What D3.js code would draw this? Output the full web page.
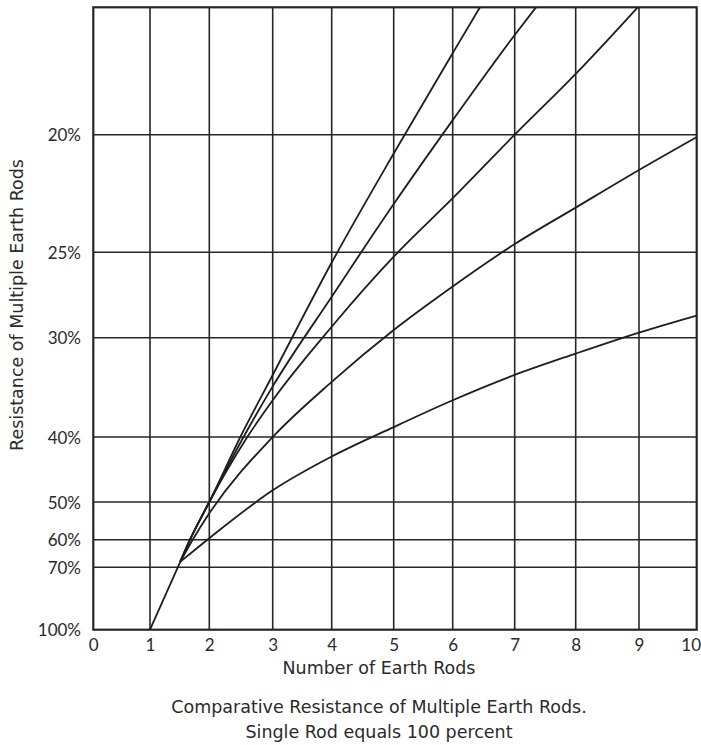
<!DOCTYPE html>
<html>
<head>
<meta charset="utf-8">
<script src="https://cdn.jsdelivr.net/npm/d3@7"></script>
<style>
  html, body { margin: 0; padding: 0; background: #fff; }
  svg { display: block; }
  text { font-family: Lato, "Open Sans", sans-serif; fill: #2a2a2a; }
</style>
</head>
<body>
<svg id="chart" width="701" height="745"></svg>
<script>
// ---- Data ----
const xTicks = [0, 1, 2, 3, 4, 5, 6, 7, 8, 9, 10];
const yTicks = [100, 70, 60, 50, 40, 30, 25, 20];
const yTickLabels = ["100%", "70%", "60%", "50%", "40%", "30%", "25%", "20%"];
const yTop = 16.5; // value at the top edge of the chart

// shared trunk of all curves (single rod -> branching point)
const trunkRods = [1, 1.51];
const trunkPct  = [100, 68];

// branches (number of rods, resistance %)
const curve1Rods = [1.51, 2, 3, 4, 5, 6, 7, 8, 9, 10];
const curve1Pct  = [68, 59.6, 48.2, 43.0, 39.0, 36.3, 33.75, 31.6, 29.7, 28.7];

const curve2Rods = [1.51, 1.72, 2, 3, 4, 5, 6, 7, 8, 9, 10];
const curve2Pct  = [68, 60, 53.0, 40, 34.45, 29.55, 27.0, 24.65, 23.1, 21.5, 20.1];

const curve3Rods = [1.51, 1.675, 2, 2.6, 3, 4, 5, 6, 7, 8, 8.98];
const curve3Pct  = [68, 60, 50, 40, 36.3, 29.36, 25.26, 22.7, 20, 18.33, 16.5];

const curve4Rods = [1.51, 1.675, 2, 2.54, 3, 4, 5, 6, 7, 7.35];
const curve4Pct  = [68, 60, 50, 40, 34.9, 27.6, 22.95, 19.6, 17.26, 16.5];

const curve5Rods = [1.51, 1.675, 2, 2.49, 3, 4, 5, 6, 6.44];
const curve5Pct  = [68, 60, 50, 40, 33.76, 25.6, 20.8, 17.76, 16.5];

// ---- Layout ----
const svg = d3.select("#chart");
// hand-drawn grid: the original's grid spacing is slightly irregular
const x = d3.scaleLinear()
  .domain(xTicks)
  .range([93.3, 150, 209.3, 272.7, 331.7, 393.7, 452.7, 514.7, 575.7, 639, 696.7]);
const y = d3.scaleLinear()
  .domain([...yTicks, yTop])
  .range([629.7, 567.3, 539.7, 502, 437, 337.7, 252.3, 134.7, 7.3]);

const pLeft = x(0), pRight = x(10), pTop = y(yTop), pBottom = y(100);
const ink = "#262626";

// grid
const g = svg.append("g");
g.selectAll("line.v").data(xTicks.slice(1, -1)).join("line")
  .attr("x1", d => x(d)).attr("x2", d => x(d))
  .attr("y1", pTop).attr("y2", pBottom)
  .attr("stroke", ink).attr("stroke-width", 1.6);
g.selectAll("line.h").data(yTicks.slice(1)).join("line")
  .attr("x1", pLeft).attr("x2", pRight)
  .attr("y1", d => y(d)).attr("y2", d => y(d))
  .attr("stroke", ink).attr("stroke-width", 1.6);
// frame
svg.append("rect")
  .attr("x", pLeft).attr("y", pTop)
  .attr("width", pRight - pLeft).attr("height", pBottom - pTop)
  .attr("fill", "none").attr("stroke", ink).attr("stroke-width", 2.2);

// axes (labels only)
const xAxis = d3.axisBottom(x).tickValues(xTicks).tickSize(0).tickPadding(0).tickFormat(d3.format("d"));
const xa = svg.append("g").attr("transform", `translate(0,${pBottom})`).call(xAxis);
xa.select(".domain").remove();
xa.selectAll("text").attr("y", 21).attr("dy", 0)
  .attr("dx", d => d === 10 ? -6 : 0)
  .style("font-family", "Lato, sans-serif").style("font-size", "17px").attr("fill", "#2a2a2a");

const yAxis = d3.axisLeft(y).tickValues(yTicks).tickSize(0).tickPadding(0)
  .tickFormat((d, i) => yTickLabels[i]);
const ya = svg.append("g").attr("transform", `translate(${81},0)`).call(yAxis);
ya.select(".domain").remove();
ya.selectAll("text").attr("x", 0).attr("dy", "0.37em")
  .style("font-family", "Lato, sans-serif").style("font-size", "17px").attr("fill", "#2a2a2a");

// curves
const line = d3.line()
  .x(d => x(d[0])).y(d => y(d[1]))
  .curve(d3.curveMonotoneX);
const straight = d3.line().x(p => x(p[0])).y(p => y(p[1]));
const zip = (a, b) => a.map((v, i) => [v, b[i]]);
const series = [
  zip(trunkRods, trunkPct),
  zip(curve1Rods, curve1Pct),
  zip(curve2Rods, curve2Pct),
  zip(curve3Rods, curve3Pct),
  zip(curve4Rods, curve4Pct),
  zip(curve5Rods, curve5Pct)
];
svg.append("g").selectAll("path").data(series).join("path")
  .attr("d", d => d.length === 2 ? straight(d) : line(d))
  .attr("fill", "none").attr("stroke", "#1e1e1e").attr("stroke-width", 1.8)
  .attr("stroke-linejoin", "round");

// titles: one size, chosen so the x-axis title matches the original's width
const titleFont = "'DejaVu Sans', sans-serif";
const xt = svg.append("text").attr("x", 379).attr("y", 674).attr("text-anchor", "middle")
  .style("font-family", titleFont).style("font-size", "17px").text("Number of Earth Rods");
const fs = Math.max(15, Math.min(18.5, 17 * 193 / xt.node().getComputedTextLength()));
xt.style("font-size", fs + "px");
svg.append("text").attr("transform", "translate(23,305) rotate(-90)").attr("text-anchor", "middle")
  .style("font-family", titleFont).style("font-size", fs + "px").text("Resistance of Multiple Earth Rods");
svg.append("text").attr("x", 379).attr("y", 712.5).attr("text-anchor", "middle")
  .style("font-family", titleFont).style("font-size", fs + "px").text("Comparative Resistance of Multiple Earth Rods.");
svg.append("text").attr("x", 379).attr("y", 737.5).attr("text-anchor", "middle")
  .style("font-family", titleFont).style("font-size", fs + "px").text("Single Rod equals 100 percent");
</script>
</body>
</html>
